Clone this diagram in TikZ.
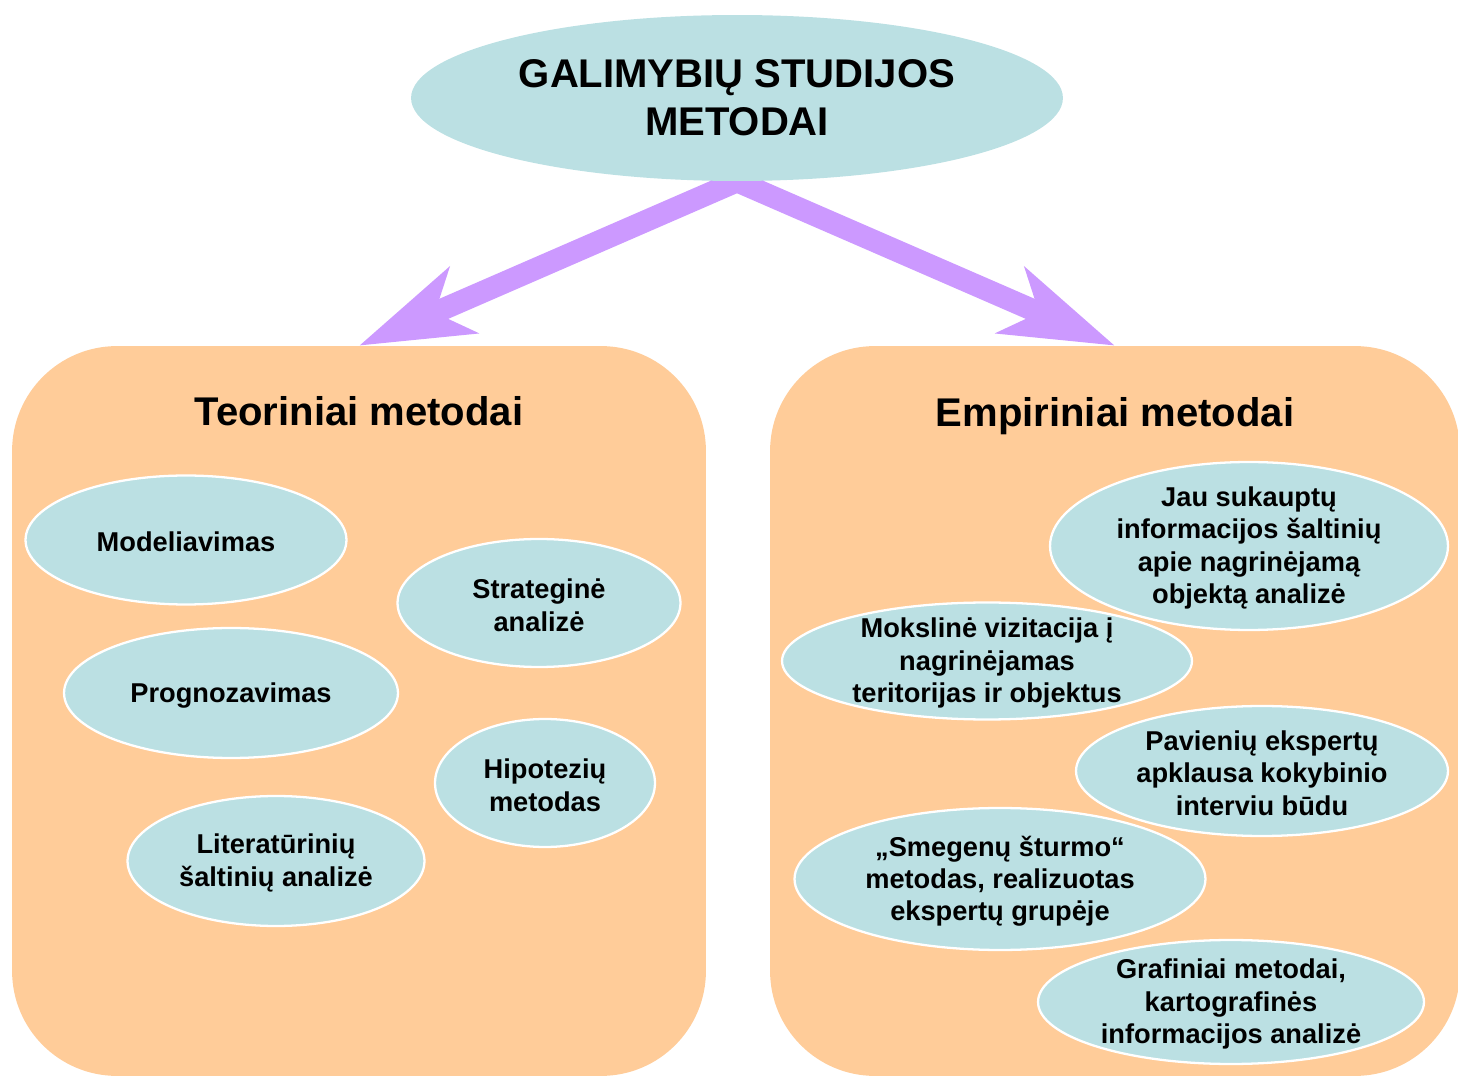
\documentclass[tikz,border=0pt]{standalone}
\usepackage{fontspec}
\setmainfont{Liberation Sans}
\usepackage{tikz}
\usetikzlibrary{arrows.meta,backgrounds,shapes.geometric}
\definecolor{gsTeal}{HTML}{BBE0E3}
\definecolor{gsPeach}{HTML}{FFCC99}
\definecolor{gsViolet}{HTML}{CC99FF}
\tikzset{
  gs diagram/.style={x=0.02cm, y=-0.02cm, font=\bfseries, text=black},
  gs group/.style={draw=none, fill=gsPeach, rounded corners=2.1cm,
    inner sep=0pt, minimum height=14.6cm},
  gs heading/.style={font=\fontsize{22.8}{27.2}\selectfont\bfseries,
    text height=0.72em, text depth=0.22em},
  gs top/.style={ellipse, fill=gsTeal, inner sep=0pt, align=center,
    minimum width=13.04cm, minimum height=3.32cm,
    font=\fontsize{22.8}{27.2}\selectfont\bfseries},
  gs oval/.style={ellipse, draw=white, fill=gsTeal, line width=1.3pt,
    inner sep=0pt},
  gs text/.style={align=center, inner sep=0pt, yshift=-1.2pt,
    font=\fontsize{15.5}{18.4}\selectfont\bfseries},
  gs arrow/.style={draw=gsViolet, line width=12.5pt, shorten <=-14pt,
    -{Stealth[length=64pt, width=40pt, inset=17pt]}}
}
\begin{document}
\begin{tikzpicture}[gs diagram]
\useasboundingbox (0,0) rectangle (1458,1077);
\node[gs group,minimum width=13.88cm] (teor) at (359,711) {};
\node[gs group,minimum width=13.8cm] (empir) at (1115,711) {};
\node[gs heading] (teorHead) at (359,421) {Teoriniai metodai};
\node[gs heading] (empirHead) at (1115,422) {Empiriniai metodai};
\node[gs top] (gs) at (737,98) {GALIMYBIŲ STUDIJOS\\METODAI};
\begin{scope}[on background layer]
\draw[gs arrow] (gs.south) -- (teor.north);
\draw[gs arrow] (gs.south) -- (empir.north);
\end{scope}
\node[gs oval,minimum width=6.42cm,minimum height=2.58cm] (model) at (186,540) {};
\node[gs text] (modelText) at (model) {Modeliavimas};
\node[gs oval,minimum width=5.66cm,minimum height=2.56cm] (strat) at (539,603) {};
\node[gs text] (stratText) at (strat) {Strateginė\\analizė};
\node[gs oval,minimum width=6.68cm,minimum height=2.6cm] (progn) at (231,693) {};
\node[gs text] (prognText) at (progn) {Prognozavimas};
\node[gs oval,minimum width=4.4cm,minimum height=2.56cm] (hipot) at (545,783) {};
\node[gs text] (hipotText) at (hipot) {Hipotezių\\metodas};
\node[gs oval,minimum width=5.94cm,minimum height=2.6cm] (liter) at (276,861) {};
\node[gs text] (literText) at (liter) {Literatūrinių\\šaltinių analizė};
\node[gs oval,minimum width=7.96cm,minimum height=3.36cm] (jau) at (1249,546) {};
\node[gs text] (jauText) at (jau) {Jau sukauptų\\informacijos šaltinių\\apie nagrinėjamą\\objektą analizė};
\node[gs oval,minimum width=8.2cm,minimum height=2.34cm] (moksl) at (987,661) {};
\node[gs text] (mokslText) at (moksl) {Mokslinė vizitacija į\\nagrinėjamas\\teritorijas ir objektus};
\node[gs oval,minimum width=7.44cm,minimum height=2.6cm] (pavien) at (1262,771) {};
\node[gs text] (pavienText) at (pavien) {Pavienių ekspertų\\apklausa kokybinio\\interviu būdu};
\node[gs oval,minimum width=8.22cm,minimum height=2.84cm] (smeg) at (1000,879) {};
\node[gs text] (smegText) at (smeg) {„Smegenų šturmo“\\metodas, realizuotas\\ekspertų grupėje};
\node[gs oval,minimum width=7.72cm,minimum height=2.48cm] (graf) at (1231,1002) {};
\node[gs text] (grafText) at (graf) {Grafiniai metodai,\\kartografinės\\informacijos analizė};
\end{tikzpicture}
\end{document}
